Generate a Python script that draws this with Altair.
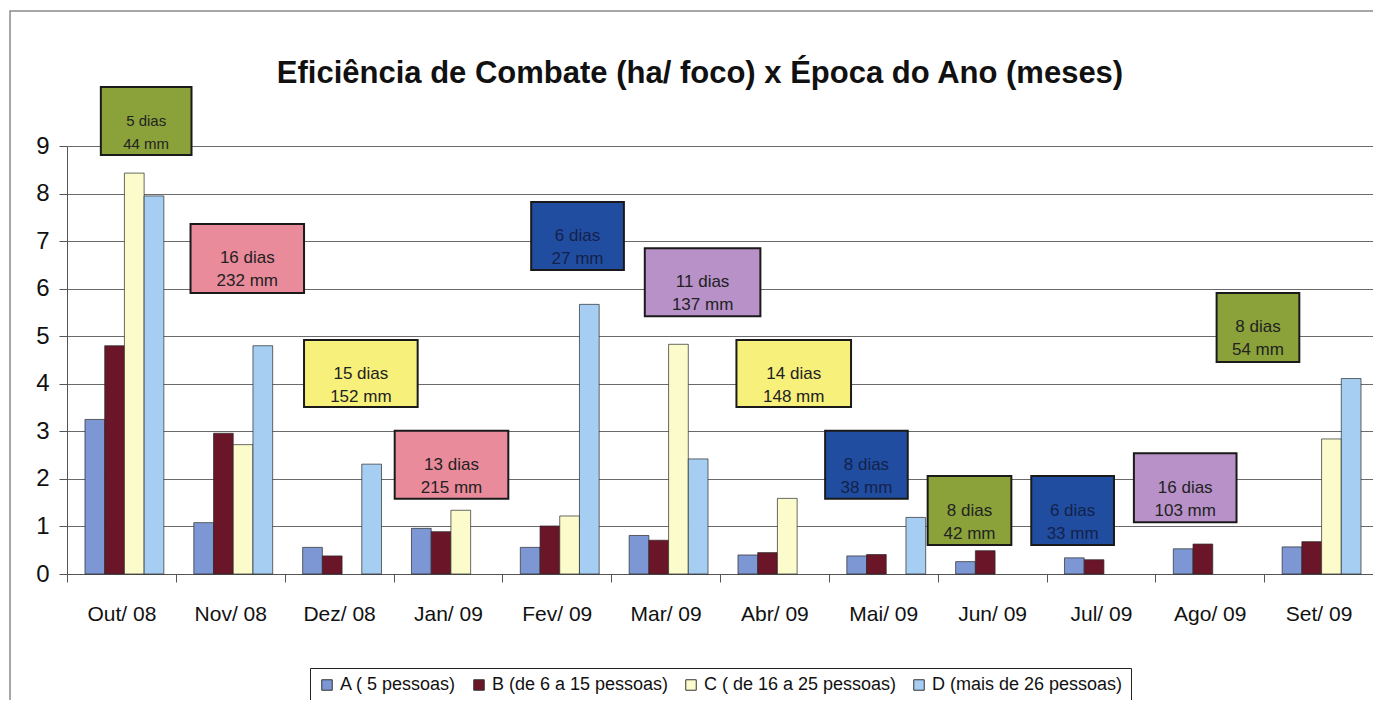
import altair as alt
import pandas as pd

# ---------------- data ----------------
title_text = "Eficiência de Combate (ha/ foco) x Época do Ano (meses)"
months = ["Out/ 08", "Nov/ 08", "Dez/ 08", "Jan/ 09", "Fev/ 09", "Mar/ 09",
          "Abr/ 09", "Mai/ 09", "Jun/ 09", "Jul/ 09", "Ago/ 09", "Set/ 09"]
series = ["A ( 5 pessoas)", "B (de 6 a 15 pessoas)",
          "C ( de 16 a 25 pessoas)", "D (mais de 26 pessoas)"]
a_vals = [3.25, 1.08, 0.56, 0.96, 0.56, 0.81, 0.40, 0.38, 0.26, 0.34, 0.53, 0.57]
b_vals = [4.80, 2.96, 0.38, 0.89, 1.01, 0.71, 0.45, 0.41, 0.49, 0.30, 0.63, 0.68]
c_vals = [8.43, 2.72, 0.00, 1.34, 1.22, 4.83, 1.59, 0.00, 0.00, 0.00, 0.00, 2.84]
d_vals = [7.95, 4.80, 2.31, 0.00, 5.67, 2.42, 0.00, 1.19, 0.00, 0.00, 0.00, 4.11]

# annotation boxes: rain days and rainfall per month
ann_dias = [5, 16, 15, 13, 6, 11, 14, 8, 8, 6, 16, 8]
ann_mm = [44, 232, 152, 215, 27, 137, 148, 38, 42, 33, 103, 54]
ann_kind = ["verde", "rosa", "amarelo", "rosa", "azul", "lilas",
            "amarelo", "azul", "verde", "azul", "lilas", "verde"]

# ---------------- layout of annotation boxes (category units / y units) ----
ann_x0 = [0.311, 1.135, 2.178, 3.011, 4.265, 5.309, 6.151, 6.966, 7.908, 8.860, 9.803, 10.563]
ann_x1 = [1.144, 2.178, 3.222, 4.055, 5.117, 6.371, 7.204, 7.725, 8.677, 9.620, 10.746, 11.323]
ann_y0 = [8.81, 5.91, 3.51, 1.58, 6.39, 5.42, 3.51, 1.58, 0.61, 0.61, 1.09, 4.46]
ann_y1 = [10.24, 7.36, 4.92, 3.01, 7.82, 6.85, 4.92, 3.01, 2.06, 2.06, 2.54, 5.91]

# ---------------- styles ----------------
bar_colors = ["#7d97d4", "#6b1529", "#fbfbcc", "#a6cef2"]
box_fill = {"verde": "#8ba23a", "rosa": "#ea8b9c", "amarelo": "#f7f17c",
            "azul": "#214da1", "lilas": "#b891c9"}
box_text = {"verde": "#222222", "rosa": "#222222", "amarelo": "#222222",
            "azul": "#13224a", "lilas": "#222222"}
FONT = "Liberation Sans, Arial, sans-serif"
W, H = 1306, 428

rows = []
for s, vals in zip(series, [a_vals, b_vals, c_vals, d_vals]):
    for m, v in zip(months, vals):
        if v > 0:
            rows.append({"month": m, "series": s, "value": v})
bars_df = pd.DataFrame(rows)

ann_df = pd.DataFrame({
    "label": [f"{d} dias\n{mm} mm" for d, mm in zip(ann_dias, ann_mm)],
    "fill": [box_fill[k] for k in ann_kind],
    "tcol": [box_text[k] for k in ann_kind],
    "x0": ann_x0, "x1": ann_x1, "y0": ann_y0, "y1": ann_y1,
})
ann_df["xc"] = (ann_df["x0"] + ann_df["x1"]) / 2
ann_df["yc"] = (ann_df["y0"] + ann_df["y1"]) / 2
ann_df["fs"] = [15] + [17] * 11

yscale = alt.Scale(domain=[0, 9], nice=False)

bars = alt.Chart(bars_df).mark_bar(stroke="#2a2a2a", strokeWidth=0.7).encode(
    x=alt.X("month:N", sort=months, title=None,
            scale=alt.Scale(paddingInner=0, paddingOuter=0),
            axis=alt.Axis(labelAngle=0, tickBand="extent", tickSize=8,
                          labelPadding=21, labelFontSize=21, labelFont=FONT,
                          labelColor="#111111", domainColor="#555555",
                          tickColor="#555555", grid=False)),
    xOffset=alt.XOffset("series:N", sort=series,
                        scale=alt.Scale(paddingInner=0, paddingOuter=0.76, align=0.6)),
    y=alt.Y("value:Q", scale=yscale, title=None,
            axis=alt.Axis(values=list(range(10)), tickSize=8, labelPadding=10,
                          labelFontSize=24, labelFont=FONT, labelColor="#111111",
                          domainColor="#555555", tickColor="#555555",
                          gridColor="#6a6a6a", gridWidth=1)),
    color=alt.Color("series:N", sort=series,
                    scale=alt.Scale(domain=series, range=bar_colors),
                    legend=alt.Legend(title=None, orient="none", legendX=243, legendY=522,
                                      direction="horizontal", columns=4,
                                      symbolType="square", symbolSize=110,
                                      symbolStrokeColor="#333333", symbolStrokeWidth=1,
                                      labelFontSize=18, labelFont=FONT, labelColor="#111111",
                                      columnPadding=13, padding=8, strokeColor="#222222",
                                      fillColor="#ffffff", labelLimit=400)),
)

xq = alt.Scale(domain=[0, 12], nice=False, zero=False)

boxes = alt.Chart(ann_df).mark_rect(stroke="#1a1a1a", strokeWidth=2).encode(
    x=alt.X("x0:Q", scale=xq, axis=None),
    x2="x1:Q",
    y=alt.Y("y0:Q", scale=yscale),
    y2="y1:Q",
    fill=alt.Fill("fill:N", scale=None),
)

texts = alt.Chart(ann_df).mark_text(lineBreak="\n", font=FONT, align="center",
                                    baseline="middle", lineHeight=23).encode(
    x=alt.X("xc:Q", scale=xq, axis=None),
    y=alt.Y("yc:Q", scale=yscale),
    text="label:N",
    color=alt.Color("tcol:N", scale=None),
    size=alt.Size("fs:Q", scale=None),
)

frame = alt.Chart(pd.DataFrame({"k": [0]})).mark_rect(
    fill="transparent", stroke="#8a8a8a", strokeWidth=1.5).encode(
    x=alt.value(-57), x2=alt.value(W + 40), y=alt.value(-135), y2=alt.value(H + 200))

title = alt.Chart(pd.DataFrame({"t": [title_text]})).mark_text(
    font=FONT, fontSize=31, fontWeight="bold", color="#111111",
    align="center", baseline="alphabetic").encode(
    text="t:N", x=alt.value(W / 2 - 20), y=alt.value(-63))

ann_layer = alt.layer(boxes, texts)

chart = alt.layer(frame, title, bars, ann_layer).resolve_scale(x="independent").properties(
    width=W, height=H,
    autosize=alt.AutoSizeParams(type="none"),
    padding={"left": 59, "top": 138, "right": 0, "bottom": 126},
).configure_view(fill="#c0c0c0", stroke=None).configure(background="#ffffff")

chart.save("out.html", embed_options={"renderer": "svg", "actions": False})
